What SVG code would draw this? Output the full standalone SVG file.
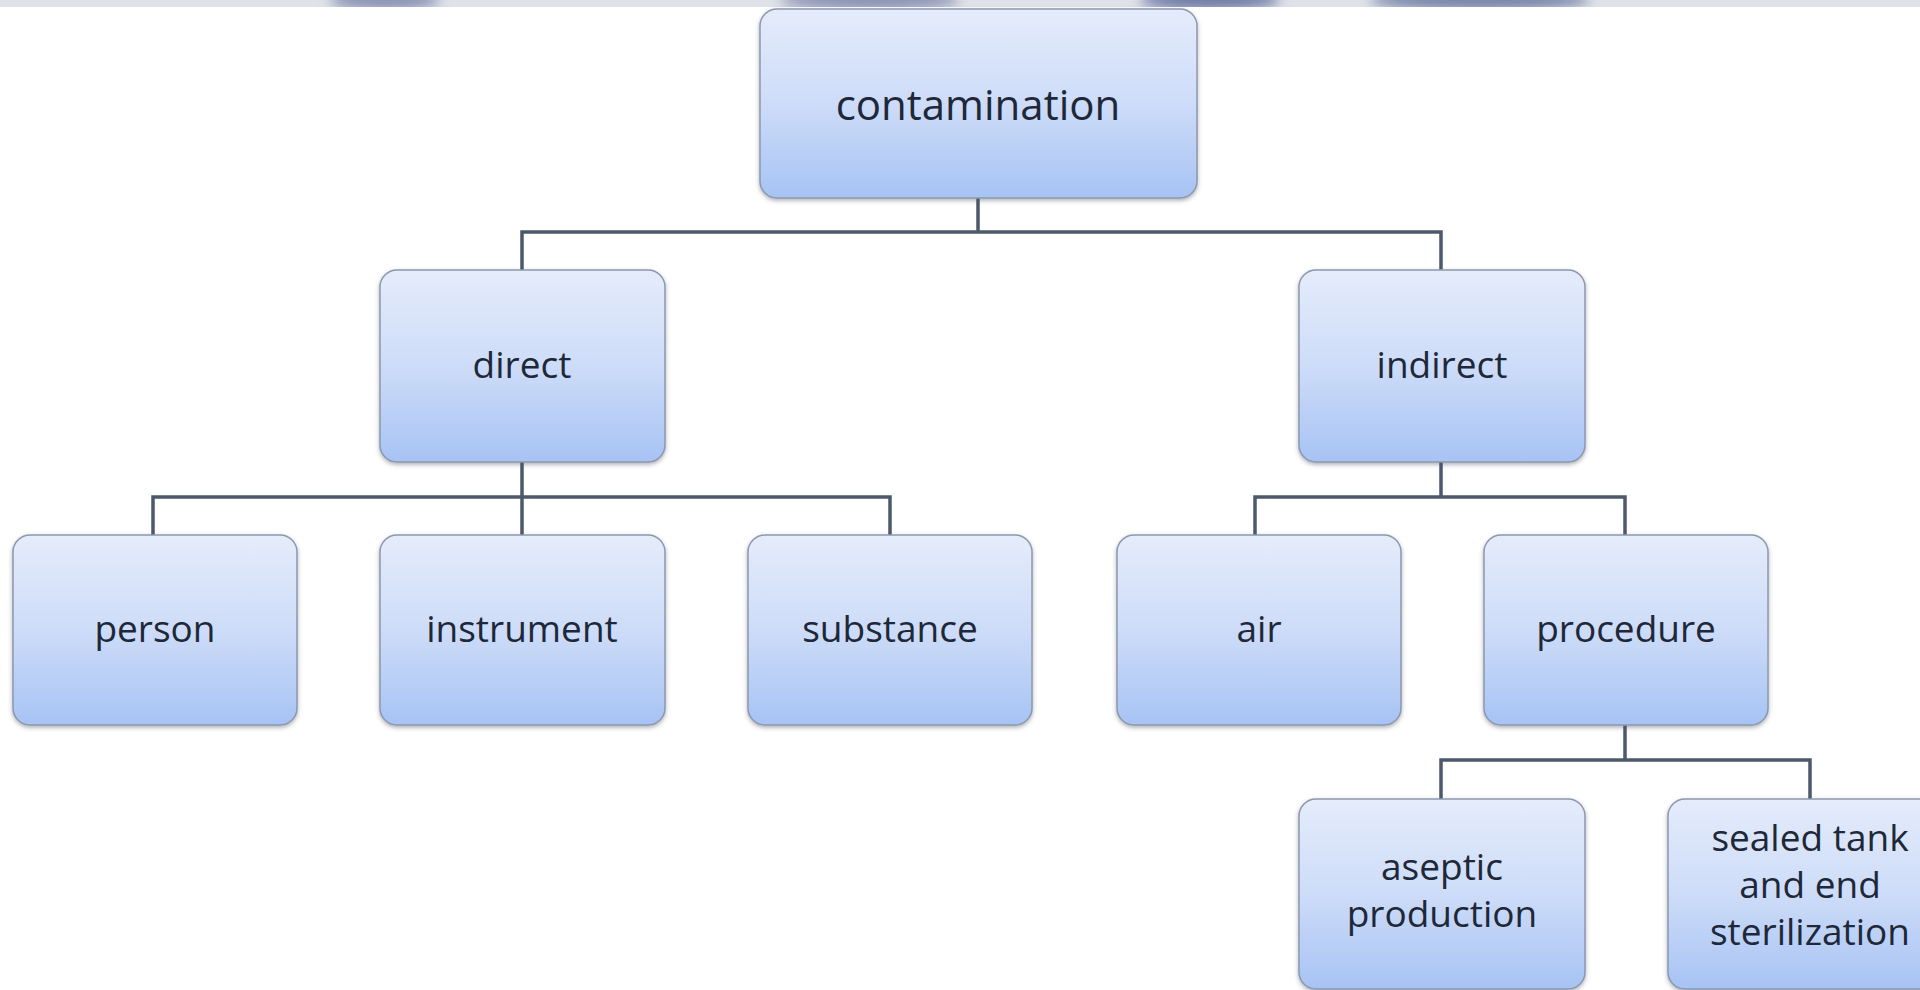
<svg xmlns="http://www.w3.org/2000/svg" width="1920" height="990" viewBox="0 0 1920 990">
  <style>
    .box { fill: url(#boxGrad); stroke: #8c99ad; stroke-width: 1.5; filter: url(#shadow); }
    .lbl { font-family: "Open Sans", "Liberation Sans", sans-serif; font-size: 37px; fill: #1e2838; text-anchor: middle; }
    .big { font-size: 42px; }
    .conn { fill: none; stroke: #4b596b; stroke-width: 3.5; stroke-linejoin: miter; stroke-linecap: square; }
  </style>
  <defs>
    <linearGradient id="boxGrad" x1="0" y1="0" x2="0" y2="1">
      <stop offset="0" stop-color="#e5ecfb"/>
      <stop offset="0.5" stop-color="#cddcf8"/>
      <stop offset="1" stop-color="#a7c3f4"/>
    </linearGradient>
    <filter id="shadow" x="-5%" y="-5%" width="110%" height="115%">
      <feDropShadow dx="0" dy="2" stdDeviation="2" flood-color="#4a5260" flood-opacity="0.45"/>
    </filter>
    <filter id="blur" x="-20%" y="-200%" width="140%" height="500%">
      <feGaussianBlur stdDeviation="6"/>
    </filter>
    <clipPath id="bandClip">
      <rect x="0" y="0" width="1920" height="7"/>
    </clipPath>
  </defs>

  <rect x="0" y="0" width="1920" height="990" fill="#ffffff"/>

  <!-- top band (blurred background fragment) -->
  <g id="top-band" clip-path="url(#bandClip)">
    <rect x="0" y="0" width="1920" height="7" fill="#dfe2e8"/>
    <g filter="url(#blur)" fill="#8a93b4">
      <ellipse cx="385" cy="0" rx="55" ry="10"/>
      <ellipse cx="870" cy="0" rx="90" ry="10"/>
      <ellipse cx="1210" cy="0" rx="70" ry="10" fill="#6f7ca6"/>
      <ellipse cx="1480" cy="0" rx="110" ry="10" fill="#7783a8"/>
    </g>
  </g>

  <g id="connectors">
    <path class="conn" d="M978 198 V232 M522 271 V232 H1441 V268"/>
    <path class="conn" d="M522 462 V497 M153 535 V497 H890 V535 M522 497 V535"/>
    <path class="conn" d="M1441 462 V497 M1255 535 V497 H1625 V535"/>
    <path class="conn" d="M1625 725 V760 M1441 799 V760 H1810 V799"/>
  </g>

  <g id="node-contamination">
    <rect class="box" x="760" y="9" width="437" height="189" rx="17"/>
    <text class="lbl big" x="978" y="120">contamination</text>
  </g>
  <g id="node-direct">
    <rect class="box" x="380" y="270" width="285" height="192" rx="17"/>
    <text class="lbl" x="522" y="378">direct</text>
  </g>
  <g id="node-indirect">
    <rect class="box" x="1299" y="270" width="286" height="192" rx="17"/>
    <text class="lbl" x="1442" y="378">indirect</text>
  </g>
  <g id="node-person">
    <rect class="box" x="13" y="535" width="284" height="190" rx="17"/>
    <text class="lbl" x="155" y="642">person</text>
  </g>
  <g id="node-instrument">
    <rect class="box" x="380" y="535" width="285" height="190" rx="17"/>
    <text class="lbl" x="522" y="642">instrument</text>
  </g>
  <g id="node-substance">
    <rect class="box" x="748" y="535" width="284" height="190" rx="17"/>
    <text class="lbl" x="890" y="642">substance</text>
  </g>
  <g id="node-air">
    <rect class="box" x="1117" y="535" width="284" height="190" rx="17"/>
    <text class="lbl" x="1259" y="642">air</text>
  </g>
  <g id="node-procedure">
    <rect class="box" x="1484" y="535" width="284" height="190" rx="17"/>
    <text class="lbl" x="1626" y="642">procedure</text>
  </g>
  <g id="node-aseptic-production">
    <rect class="box" x="1299" y="799" width="286" height="190" rx="17"/>
    <text class="lbl" x="1442" y="880">aseptic<tspan x="1442" dy="47">production</tspan></text>
  </g>
  <g id="node-sealed-tank">
    <rect class="box" x="1668" y="799" width="286" height="190" rx="17"/>
    <text class="lbl" x="1810" y="851">sealed tank<tspan x="1810" dy="47">and end</tspan><tspan x="1810" dy="47">sterilization</tspan></text>
  </g>
</svg>
